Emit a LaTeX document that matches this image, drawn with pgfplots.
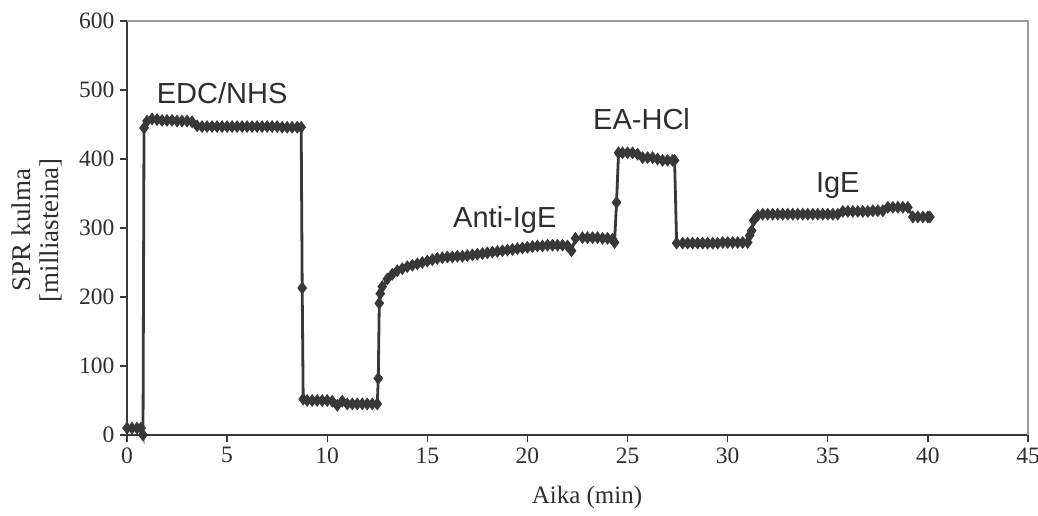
\documentclass[border=0pt]{standalone}
\usepackage{fontspec}
\setmainfont{Liberation Serif}
\newfontfamily\arial{Liberation Sans}
\usepackage{pgfplots}
\pgfplotsset{compat=1.18}
\usepackage{pgfplotstable}
\definecolor{ink}{HTML}{383838}
\definecolor{txt}{HTML}{2E2E2E}
\definecolor{frame}{HTML}{9A9A9A}
\pgfplotstableread{
x y
0 10
0.25 10
0.5 10
0.7 10
0.8 0
0.85 445
1.0 455
1.25 458
1.5 457
1.75 456
2.0 456
2.25 456
2.5 455
2.75 455
3.0 455
3.25 454
3.5 448
3.75 447
4.0 447
4.25 447
4.5 447
4.75 447
5.0 447
5.25 447
5.5 447
5.75 447
6.0 447
6.25 447
6.5 447
6.75 447
7.0 447
7.25 447
7.5 447
7.75 446
8.0 446
8.25 446
8.5 446
8.7 446
8.75 213
8.8 52
9.0 50
9.25 50
9.5 50
9.75 50
10.0 50
10.25 49
10.5 43
10.75 49
11.0 45
11.25 45
11.5 45
11.75 45
12.0 45
12.25 45
12.5 45
12.55 82
12.6 191
12.65 205
12.75 215
13.0 226
13.25 233
13.5 238
13.75 241
14.0 244
14.25 246
14.5 248
14.75 250
15.0 252
15.25 254
15.5 256
15.75 257
16.0 258
16.25 258
16.5 259
16.75 259
17.0 260
17.25 261
17.5 262
17.75 263
18.0 264
18.25 265
18.5 266
18.75 267
19.0 268
19.25 269
19.5 270
19.75 271
20.0 272
20.25 273
20.5 274
20.75 274
21.0 275
21.25 275
21.5 275
21.75 275
22.0 274
22.2 267
22.4 285
22.75 286
23.0 286
23.25 286
23.5 286
23.75 285
24.0 285
24.25 284
24.35 279
24.45 337
24.55 409
24.75 409
25.0 409
25.25 409
25.5 407
25.75 402
26.0 402
26.25 402
26.5 400
26.75 398
27.0 398
27.25 398
27.35 398
27.45 278
27.75 278
28.0 278
28.25 278
28.5 278
28.75 278
29.0 278
29.25 278
29.5 278
29.75 279
30.0 279
30.25 279
30.5 279
30.75 279
31.0 279
31.1 289
31.2 296
31.3 311
31.5 318
31.75 320
32.0 320
32.25 320
32.5 320
32.75 320
33.0 320
33.25 320
33.5 320
33.75 320
34.0 320
34.25 320
34.5 320
34.75 320
35.0 320
35.25 320
35.5 320
35.75 324
36.0 324
36.25 324
36.5 324
36.75 324
37.0 324
37.25 325
37.5 325
37.75 325
38.0 330
38.25 330
38.5 330
38.75 330
39.0 330
39.25 316
39.5 316
39.75 316
40.0 316
40.1 316
}\spr
\begin{document}
\begin{tikzpicture}
\begin{axis}[
  scale only axis,
  width=901pt, height=414pt,
  xmin=0, xmax=45, ymin=0, ymax=600,
  xtick={0,5,...,45}, ytick={0,100,...,600},
  axis x line*=bottom, axis y line*=left,
  axis line style={ink, line width=2pt},
  every outer x axis line/.append style={-},
  every outer y axis line/.append style={-},
  tick align=outside,
  major tick length=7pt,
  tick style={ink, line width=1.4pt},
  /pgf/number format/assume math mode=true,
  ticklabel style={font=\fontsize{23.5}{26}\selectfont, text=txt},
  xticklabel style={yshift=-2pt},
  yticklabel style={xshift=-2pt},
  xlabel={Aika (min)},
  xlabel style={font=\fontsize{25}{26}\selectfont, text=txt, at={(axis description cs:0.5105,-0.15)}, anchor=center},
  ylabel={SPR kulma\\{}{[milliasteina]}},
  ylabel style={font=\fontsize{27}{28}\selectfont, text=txt, align=center, at={(axis description cs:-0.0999,0.495)}, anchor=center},
  clip=false,
]
\draw[frame, line width=1.5pt] (rel axis cs:0,1) -- (rel axis cs:1,1) -- (rel axis cs:1,0);
\addplot[ink, line width=2.8pt, mark=diamond*, mark size=5.8pt, mark options={fill=ink, draw=ink, line width=0.8pt}] table[x=x, y=y] {\spr};
\node[text=txt, font=\arial\fontsize{29}{30}\selectfont] at (axis cs:4.75,496) {EDC/NHS};
\node[text=txt, font=\arial\fontsize{29}{30}\selectfont] at (axis cs:25.7,458) {EA-HCl};
\node[text=txt, font=\arial\fontsize{29}{30}\selectfont] at (axis cs:18.87,312) {Anti-IgE};
\node[text=txt, font=\arial\fontsize{29}{30}\selectfont] at (axis cs:35.5,361) {IgE};
\end{axis}
\pgfresetboundingbox
\path (-127pt,-81pt) rectangle (911pt,435pt);
\end{tikzpicture}
\end{document}
